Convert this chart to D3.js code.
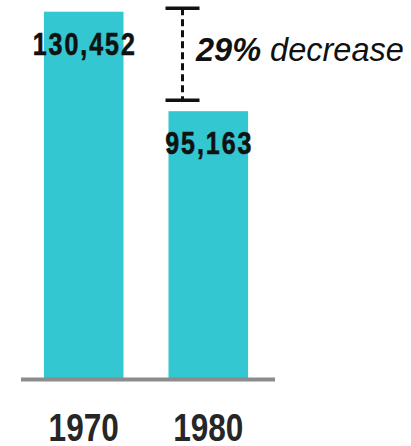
<!DOCTYPE html>
<html>
<head>
<meta charset="utf-8">
<script src="https://cdn.jsdelivr.net/npm/d3@7"></script>
<style>
  body { margin: 0; background: #fff; }
</style>
</head>
<body>
<div id="chart"></div>
<script>
// data
var years = ["1970", "1980"];
var counts = [130452, 95163];
var changeLabel = "29%";
var changeWord = " decrease";

var width = 411, height = 446;
var baseY = 379.5, topY = 11.7;
var narrow = 0.82; // squeeze to mimic a condensed bold face

var svg = d3.select("#chart")
  .append("svg")
    .attr("width", width)
    .attr("height", height);

var x = d3.scaleBand()
  .domain(years)
  .range([19, 273])
  .paddingInner(0.361)
  .paddingOuter(0.2);

var y = d3.scaleLinear()
  .domain([0, d3.max(counts)])
  .range([baseY, topY]);

var data = years.map(function(d, i) { return {year: d, value: counts[i]}; });

// bars
svg.selectAll(".bar")
  .data(data)
  .enter()
  .append("rect")
    .attr("class", "bar")
    .attr("x", function(d) { return x(d.year); })
    .attr("y", function(d) { return y(d.value); })
    .attr("width", x.bandwidth())
    .attr("height", function(d) { return baseY - y(d.value); })
    .attr("fill", "#33c7d1");

// baseline
svg.append("line")
  .attr("x1", 21).attr("x2", 275)
  .attr("y1", baseY).attr("y2", baseY)
  .attr("stroke", "#8c8c8c")
  .attr("stroke-width", 4);

// value labels
svg.selectAll(".val")
  .data(data)
  .enter()
  .append("text")
    .attr("class", "val")
    .attr("transform", function(d) {
      return "translate(" + (x(d.year) + x.bandwidth() / 2 + 1) + "," + (y(d.value) + 43) + ") scale(" + narrow + ",1)";
    })
    .attr("text-anchor", "middle")
    .style("font-family", "'Liberation Sans', Arial, sans-serif")
    .style("font-weight", "bold")
    .style("font-size", "30.5px")
    .style("letter-spacing", "2.4px")
    .style("stroke", "#111")
    .style("stroke-width", "0.6px")
    .attr("fill", "#111")
    .text(function(d) { return d3.format(",")(d.value); });

// x axis labels
svg.selectAll(".yr")
  .data(data)
  .enter()
  .append("text")
    .attr("class", "yr")
    .attr("transform", function(d) {
      return "translate(" + (x(d.year) + x.bandwidth() / 2) + ",440.5) scale(" + narrow + ",1)";
    })
    .attr("text-anchor", "middle")
    .style("font-family", "'Liberation Sans', Arial, sans-serif")
    .style("font-weight", "bold")
    .style("font-size", "38.5px")
    .attr("fill", "#262626")
    .text(function(d) { return d.year; });

// change annotation
var ax = 182.5;
var aTop = y(counts[0]) - 3.5;
var aBot = y(counts[1]) - 11;
svg.append("line")
  .attr("x1", ax).attr("x2", ax)
  .attr("y1", aTop).attr("y2", aBot)
  .attr("stroke", "#111")
  .attr("stroke-width", 3)
  .attr("stroke-dasharray", "7,4");
[aTop, aBot].forEach(function(yy) {
  svg.append("line")
    .attr("x1", ax - 17).attr("x2", ax + 17)
    .attr("y1", yy).attr("y2", yy)
    .attr("stroke", "#111")
    .attr("stroke-width", 3.5);
});

var note = svg.append("text")
  .attr("x", 196)
  .attr("y", 61)
  .style("font-family", "'Liberation Sans', Arial, sans-serif")
  .style("font-style", "italic")
  .style("font-size", "32.5px")
  .attr("fill", "#111");
note.append("tspan").style("font-weight", "bold").text(changeLabel);
note.append("tspan").text(changeWord);
</script>
</body>
</html>
